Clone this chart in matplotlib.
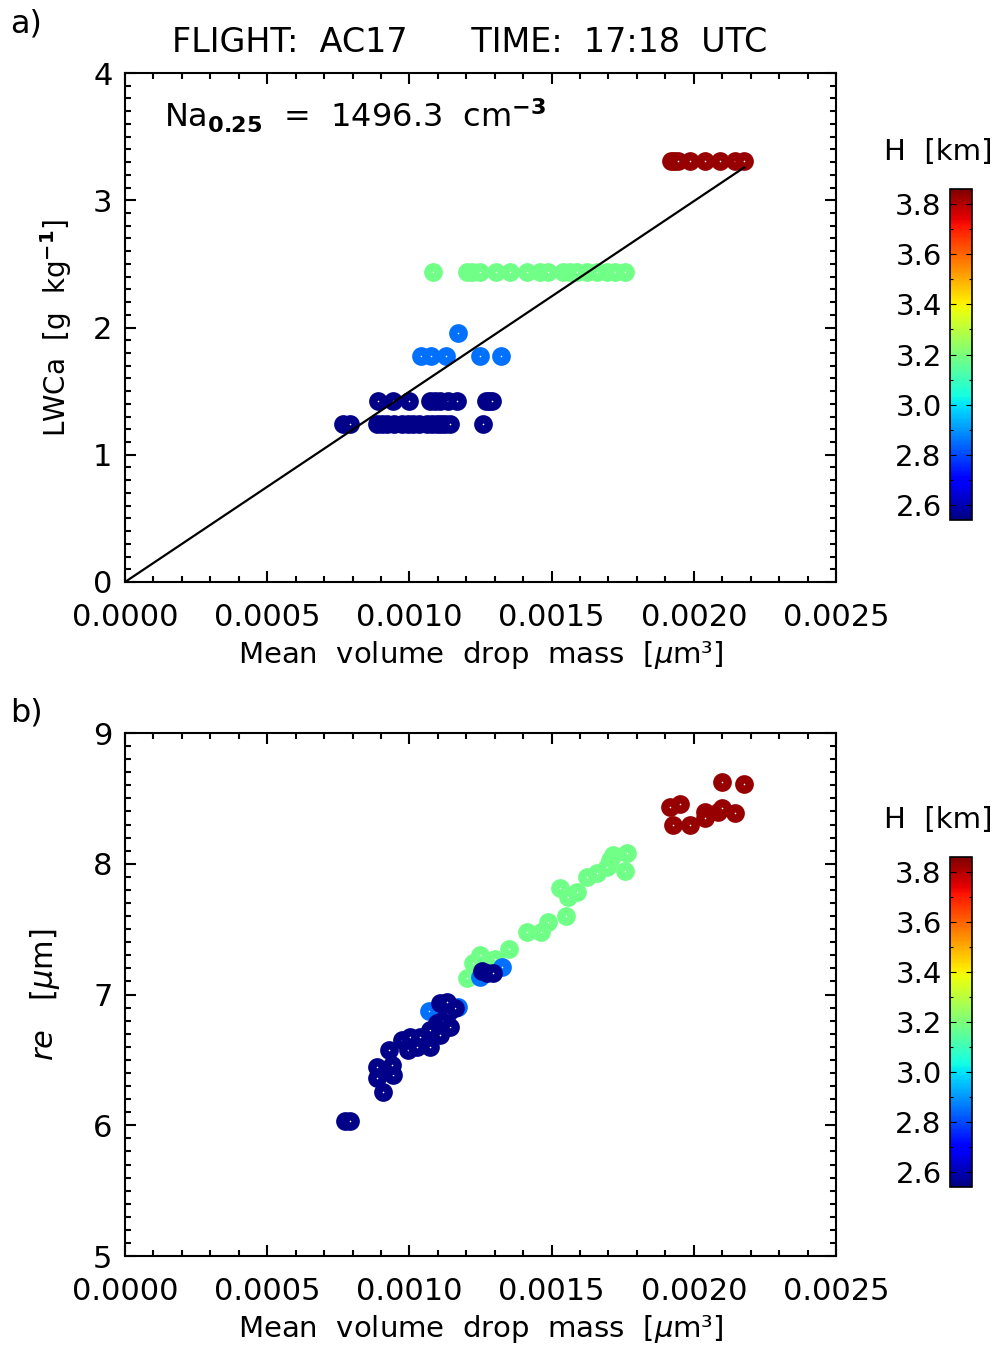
import numpy as np
import matplotlib
matplotlib.use('Agg')
import matplotlib.pyplot as plt
from matplotlib.ticker import MultipleLocator, FormatStrFormatter
from matplotlib.colors import Normalize
from matplotlib.cm import ScalarMappable

plt.rcParams['font.family'] = ['DejaVu Sans']
plt.rcParams['mathtext.fontset'] = 'dejavusans'

# fitted droplet number concentration (slope of LWCa vs mass) [cm-3]
NA_025 = 1496.3

# ---- panel a: LWCa vs mean volume drop mass, grouped by altitude ----
mass_a_navy = [0.000768, 0.000791, 0.000885, 0.000905, 0.000920, 0.000945,
               0.000973, 0.000995, 0.001014, 0.001035, 0.001061, 0.001080,
               0.001096, 0.001110, 0.001125, 0.001143, 0.001258,
               0.000891, 0.000944, 0.000999, 0.001072, 0.001090, 0.001108,
               0.001137, 0.001166, 0.001270, 0.001281, 0.001290]
lwc_a_navy = [1.242] * 17 + [1.422] * 11
mass_a_blue = [0.001040, 0.001076, 0.001129, 0.001248, 0.001322, 0.001170]
lwc_a_blue = [1.776] * 5 + [1.959]
mass_a_green = [0.001082, 0.001201, 0.001219, 0.001248, 0.001303, 0.001354,
                0.001412, 0.001459, 0.001488, 0.001541, 0.001565, 0.001588,
                0.001623, 0.001659, 0.001694, 0.001723, 0.001758]
lwc_a_green = [2.438] * 17
mass_a_red = [0.001919, 0.001932, 0.001945, 0.001986, 0.002039, 0.002092,
              0.002145, 0.002177]
lwc_a_red = [3.311] * 8

# ---- panel b: effective radius vs mean volume drop mass ----
mass_b_green = [0.001764, 0.001717, 0.001705, 0.001694, 0.001659, 0.001623,
                0.001588, 0.001557, 0.001530, 0.001758, 0.001550, 0.001488,
                0.001462, 0.001412, 0.001351, 0.001301, 0.001248, 0.001225,
                0.001201]
re_b_green = [8.085, 8.067, 8.029, 7.978, 7.927, 7.901, 7.786, 7.748, 7.812,
              7.947, 7.603, 7.557, 7.481, 7.476, 7.346, 7.269, 7.302, 7.238,
              7.124]
mass_b_blue = [0.001070, 0.001172, 0.001248, 0.001325]
re_b_blue = [6.876, 6.908, 7.136, 7.208]
mass_b_navy = [0.000774, 0.000791, 0.000908, 0.000885, 0.000944, 0.000885,
               0.000938, 0.000929, 0.000996, 0.001026, 0.001061, 0.001072,
               0.000973, 0.001002, 0.001037, 0.001108, 0.001072, 0.001143,
               0.001096, 0.001119, 0.001137, 0.001160, 0.001108, 0.001131,
               0.001254, 0.001272, 0.001295]
re_b_navy = [6.030, 6.030, 6.257, 6.359, 6.384, 6.448, 6.461, 6.576, 6.576,
             6.601, 6.627, 6.601, 6.652, 6.677, 6.677, 6.690, 6.728, 6.754,
             6.780, 6.805, 6.856, 6.895, 6.933, 6.946, 7.182, 7.162, 7.162]
mass_b_red = [0.001916, 0.001951, 0.001928, 0.001987, 0.002039, 0.002039,
              0.002086, 0.002098, 0.002145, 0.002098, 0.002177]
re_b_red = [8.436, 8.455, 8.296, 8.296, 8.398, 8.348, 8.398, 8.424, 8.386,
            8.623, 8.610]

# altitude of each group [km]
H_NAVY, H_BLUE, H_GREEN, H_RED = 2.555, 2.85, 3.18, 3.83
H_MIN, H_MAX = 2.54, 3.86
H_TICKS = [2.6, 2.8, 3.0, 3.2, 3.4, 3.6, 3.8]

X_TICKS = [0.0, 0.0005, 0.0010, 0.0015, 0.0020, 0.0025]

FS = 20          # colourbar / label text
FS_TICK = 22     # axis tick labels
FS_XLAB = 21
cmap = plt.get_cmap('jet')
norm = Normalize(H_MIN, H_MAX)


def scatter_group(ax, x, y, h):
    # IDL-like filled circle with a tiny white centre
    ax.scatter(x, y, s=56, facecolors='white', edgecolors=[cmap(norm(h))],
               linewidths=6, zorder=3)


def style_axes(ax, ymin, ymax):
    ax.set_xlim(0, 0.0025)
    ax.set_ylim(ymin, ymax)
    ax.set_xticks(X_TICKS)
    ax.xaxis.set_major_formatter(FormatStrFormatter('%.4f'))
    ax.xaxis.set_minor_locator(MultipleLocator(0.0001))
    ax.yaxis.set_major_locator(MultipleLocator(1))
    ax.yaxis.set_minor_locator(MultipleLocator(0.1))
    ax.tick_params(which='both', direction='in', top=True, right=True,
                   width=1.5, labelsize=FS_TICK)
    ax.tick_params(which='major', length=8)
    ax.tick_params(which='minor', length=4)
    ax.tick_params(axis='x', pad=15)
    ax.tick_params(axis='y', pad=9)
    for sp in ax.spines.values():
        sp.set_linewidth(1.5)
    ax.set_xlabel('Mean  volume  drop  mass  [$\\mu$m³]', fontsize=FS_XLAB,
                  labelpad=5)


def add_colorbar(fig, rect, label_y):
    cax = fig.add_axes(rect)
    cb = fig.colorbar(ScalarMappable(norm=norm, cmap=cmap), cax=cax,
                      ticks=H_TICKS)
    cb.outline.set_linewidth(1.2)
    cax.yaxis.set_ticks_position('both')
    cax.yaxis.set_minor_locator(MultipleLocator(0.1))
    cax.tick_params(which='both', direction='in', labelleft=True,
                    labelright=False, labelsize=FS + 1, width=0.8, pad=6)
    cax.tick_params(which='major', length=4)
    cax.tick_params(which='minor', length=2)
    cax.set_yticklabels(['%.1f' % t for t in H_TICKS])
    fig.text(938 / 997, label_y, 'H  [km]', fontsize=FS + 1, ha='center',
             va='center')


fig = plt.figure(figsize=(9.97, 13.5), dpi=100)

# ---- panel a ----
ax1 = fig.add_axes([0.1254, 0.5689, 0.7131, 0.3770])
scatter_group(ax1, mass_a_navy, lwc_a_navy, H_NAVY)
scatter_group(ax1, mass_a_blue, lwc_a_blue, H_BLUE)
scatter_group(ax1, mass_a_green, lwc_a_green, H_GREEN)
scatter_group(ax1, mass_a_red, lwc_a_red, H_RED)
xfit = np.array([0.0, max(mass_a_red)])
ax1.plot(xfit, NA_025 * xfit, color='black', lw=1.6, zorder=4)
style_axes(ax1, 0, 4)
ax1.set_ylabel('LWCa  [g  kg$^{\\mathbf{-1}}$]', fontsize=FS, labelpad=14)
ax1.text(0.055, 0.915,
         'Na$_{\\mathbf{0.25}}$  =  1496.3  cm$^{\\mathbf{-3}}$',
         transform=ax1.transAxes, fontsize=23, va='center')
fig.text(470 / 997, 1 - 42 / 1350, 'FLIGHT:  AC17      TIME:  17:18  UTC',
         fontsize=24, ha='center', va='center')
fig.text(10 / 997, 1 - 24 / 1350, 'a)', fontsize=23, va='center')
add_colorbar(fig, [0.9529, 0.6148, 0.0221, 0.2452], 1 - 152 / 1350)

# ---- panel b ----
ax2 = fig.add_axes([0.1254, 0.0696, 0.7131, 0.3874])
scatter_group(ax2, mass_b_green, re_b_green, H_GREEN)
scatter_group(ax2, mass_b_blue, re_b_blue, H_BLUE)
scatter_group(ax2, mass_b_navy, re_b_navy, H_NAVY)
scatter_group(ax2, mass_b_red, re_b_red, H_RED)
style_axes(ax2, 5, 9)
ax2.set_ylabel('$re$   [$\\mu$m]', fontsize=FS + 2, labelpad=22)
fig.text(10 / 997, 1 - 713 / 1350, 'b)', fontsize=23, va='center')
add_colorbar(fig, [0.9529, 0.1207, 0.0221, 0.2444], 1 - 820 / 1350)

fig.savefig('out.png', dpi=100)
